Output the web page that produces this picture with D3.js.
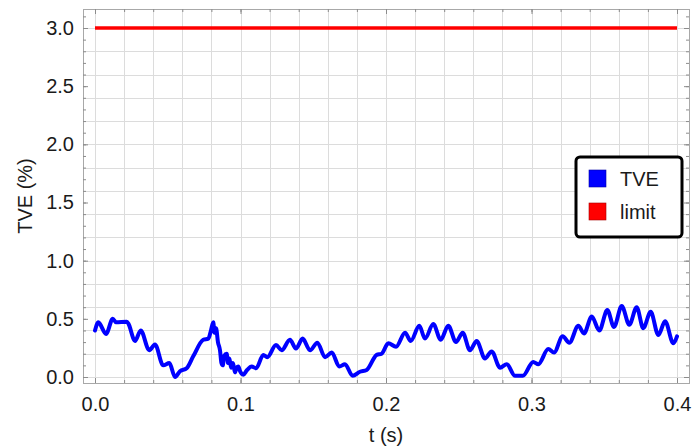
<!DOCTYPE html>
<html>
<head>
<meta charset="utf-8">
<script src="https://cdn.jsdelivr.net/npm/d3@7"></script>
<style>
  html, body { margin: 0; padding: 0; background: #fff; }
  svg { display: block; font-family: "Liberation Sans", Arial, sans-serif; }
</style>
</head>
<body>
<svg id="chart" width="692" height="448"></svg>
<script>
// Time samples (s) and total vector error (%) along the run
const timeS = [0.0000, 0.0023, 0.0076, 0.0122, 0.0144, 0.0218, 0.0229, 0.0275, 0.0314, 0.0373,
  0.0412, 0.0469, 0.0511, 0.0550, 0.0584, 0.0630, 0.0676, 0.0744, 0.0779, 0.0797,
  0.0813, 0.0821, 0.0832, 0.0845, 0.0859, 0.0869, 0.0878, 0.0887, 0.0905, 0.0914,
  0.0924, 0.0935, 0.0948, 0.0962, 0.0973, 0.0985, 0.0997, 0.1019, 0.1045, 0.1077,
  0.1107, 0.1157, 0.1184, 0.1244, 0.1283, 0.1340, 0.1381, 0.1427, 0.1478, 0.1528,
  0.1581, 0.1627, 0.1679, 0.1718, 0.1771, 0.1821, 0.1867, 0.1936, 0.1970, 0.2016,
  0.2069, 0.2131, 0.2170, 0.2229, 0.2268, 0.2325, 0.2376, 0.2428, 0.2481, 0.2527,
  0.2577, 0.2623, 0.2680, 0.2726, 0.2784, 0.2830, 0.2887, 0.2940, 0.3012, 0.3047,
  0.3115, 0.3155, 0.3214, 0.3260, 0.3322, 0.3361, 0.3414, 0.3466, 0.3521, 0.3567,
  0.3620, 0.3672, 0.3723, 0.3768, 0.3819, 0.3872, 0.3918, 0.3975, 0.4000];
const tvePct = [0.40, 0.47, 0.37, 0.50, 0.47, 0.475, 0.46, 0.31, 0.40, 0.23,
  0.28, 0.10, 0.12, 0.00, 0.05, 0.075, 0.18, 0.32, 0.33, 0.40,
  0.47, 0.38, 0.42, 0.30, 0.23, 0.12, 0.10, 0.18, 0.20, 0.12,
  0.16, 0.08, 0.12, 0.04, 0.08, 0.09, 0.05, 0.02, 0.06, 0.09,
  0.075, 0.19, 0.17, 0.275, 0.23, 0.32, 0.245, 0.33, 0.23, 0.295,
  0.17, 0.21, 0.09, 0.11, 0.01, 0.045, 0.06, 0.19, 0.20, 0.29,
  0.26, 0.38, 0.31, 0.44, 0.33, 0.455, 0.32, 0.44, 0.30, 0.38,
  0.23, 0.31, 0.16, 0.22, 0.08, 0.11, 0.01, 0.01, 0.13, 0.11,
  0.24, 0.21, 0.35, 0.295, 0.44, 0.375, 0.52, 0.40, 0.575, 0.43,
  0.61, 0.45, 0.60, 0.42, 0.56, 0.36, 0.48, 0.29, 0.35];

// Compliance limit
const limitT = [0, 0.4];
const limitPct = [3, 3];

// Axis ticks
const xMajorTicks = [0, 0.1, 0.2, 0.3, 0.4];
const yMajorTicks = [0, 0.5, 1, 1.5, 2, 2.5, 3];
const xGridStep = 0.02;
const yGridStep = 0.2;

const legendNames = ["TVE", "limit"];
const legendColors = ["#0000ff", "#ff0000"];

const FONT = 20;
const svg = d3.select("#chart");
const frame = { left: 83, right: 689, top: 9, bottom: 383 };

const x = d3.scaleLinear().domain([0, 0.4]).range([95, 677]);
const y = d3.scaleLinear().domain([0, 3]).range([377, 28]);

// helper: evenly stepped values inside the frame
function steps(scale, step, lo, hi) {
  const out = [];
  for (let i = -50; i <= 200; i++) {
    const v = +(i * step).toFixed(6);
    const p = scale(v);
    if (p >= lo - 0.5 && p <= hi + 0.5) out.push(v);
  }
  return out;
}

const xGrid = steps(x, xGridStep, frame.left, frame.right);
const yGrid = steps(y, yGridStep, frame.top, frame.bottom);

// grid
const grid = svg.append("g").attr("stroke", "#dcdcdc").attr("stroke-width", 1);
grid.selectAll("line.v").data(xGrid).join("line")
  .attr("x1", d => Math.round(x(d)) + 0.5).attr("x2", d => Math.round(x(d)) + 0.5)
  .attr("y1", frame.top).attr("y2", frame.bottom);
grid.selectAll("line.h").data(yGrid).join("line")
  .attr("y1", d => Math.round(y(d)) + 0.5).attr("y2", d => Math.round(y(d)) + 0.5)
  .attr("x1", frame.left).attr("x2", frame.right);

// frame
svg.append("rect")
  .attr("x", frame.left + 0.5).attr("y", frame.top + 0.5)
  .attr("width", frame.right - frame.left).attr("height", frame.bottom - frame.top)
  .attr("fill", "none").attr("stroke", "#a8a8a8").attr("stroke-width", 1);

// axes: inward ticks, labels only on bottom and left
const tickColor = "#8c8c8c";
const xMinor = steps(x, 0.02, frame.left, frame.right);
const yMinor = steps(y, 0.1, frame.top, frame.bottom);

function styleAxis(g) {
  g.select(".domain").remove();
  g.selectAll(".tick line").attr("stroke", tickColor);
  g.selectAll(".tick text").attr("fill", "#1a1a1a").attr("font-size", FONT)
    .attr("font-family", "'Liberation Sans', Arial, sans-serif");
}

const xFmt = d3.format(".1f");
svg.append("g").attr("transform", `translate(0,${frame.bottom})`)
  .call(d3.axisBottom(x).tickValues(xMinor).tickSize(-3).tickFormat(""))
  .call(styleAxis);
svg.append("g").attr("transform", `translate(0,${frame.bottom})`)
  .call(d3.axisBottom(x).tickValues(xMajorTicks).tickSize(-5).tickPadding(14).tickFormat(xFmt))
  .call(styleAxis);
svg.append("g").attr("transform", `translate(0,${frame.top})`)
  .call(d3.axisTop(x).tickValues(xMinor).tickSize(-3).tickFormat(""))
  .call(styleAxis);
svg.append("g").attr("transform", `translate(0,${frame.top})`)
  .call(d3.axisTop(x).tickValues(xMajorTicks).tickSize(-5).tickFormat(""))
  .call(styleAxis);

svg.append("g").attr("transform", `translate(${frame.left},0)`)
  .call(d3.axisLeft(y).tickValues(yMinor).tickSize(-3).tickFormat(""))
  .call(styleAxis);
svg.append("g").attr("transform", `translate(${frame.left},0)`)
  .call(d3.axisLeft(y).tickValues(yMajorTicks).tickSize(-5).tickPadding(9).tickFormat(xFmt))
  .call(styleAxis);
svg.append("g").attr("transform", `translate(${frame.right},0)`)
  .call(d3.axisRight(y).tickValues(yMinor).tickSize(-3).tickFormat(""))
  .call(styleAxis);
svg.append("g").attr("transform", `translate(${frame.right},0)`)
  .call(d3.axisRight(y).tickValues(yMajorTicks).tickSize(-5).tickFormat(""))
  .call(styleAxis);

// axis titles
svg.append("text")
  .attr("x", x(0.2)).attr("y", 442)
  .attr("text-anchor", "middle").attr("font-size", FONT).attr("fill", "#1a1a1a")
  .text("t (s)");
svg.append("text")
  .attr("transform", `translate(32,${(frame.top + frame.bottom) / 2}) rotate(-90)`)
  .attr("text-anchor", "middle").attr("font-size", FONT).attr("fill", "#1a1a1a")
  .text("TVE (%)");

// series
const line = d3.line().x(d => x(d[0])).y(d => y(d[1]));

svg.append("path")
  .datum(limitT.map((t, i) => [t, limitPct[i]]))
  .attr("d", line)
  .attr("fill", "none").attr("stroke", legendColors[1]).attr("stroke-width", 3.5);

svg.append("path")
  .datum(timeS.map((t, i) => [t, tvePct[i]]))
  .attr("d", line.curve(d3.curveMonotoneX))
  .attr("fill", "none").attr("stroke", legendColors[0]).attr("stroke-width", 4)
  .attr("stroke-linejoin", "round").attr("stroke-linecap", "round");

// legend
const lg = svg.append("g").attr("transform", "translate(576,157)");
lg.append("rect")
  .attr("width", 106).attr("height", 80).attr("rx", 4)
  .attr("fill", "#fff").attr("stroke", "#000").attr("stroke-width", 3);
legendNames.forEach((name, i) => {
  const row = lg.append("g").attr("transform", `translate(13,${13 + i * 33})`);
  row.append("rect").attr("width", 17).attr("height", 17)
    .attr("fill", legendColors[i]).attr("stroke", d3.color(legendColors[i]).darker(1.2)).attr("stroke-width", 0.6);
  row.append("text").attr("x", 31).attr("y", 15.5)
    .attr("font-size", FONT).attr("fill", "#1a1a1a").text(name);
});
</script>
</body>
</html>
